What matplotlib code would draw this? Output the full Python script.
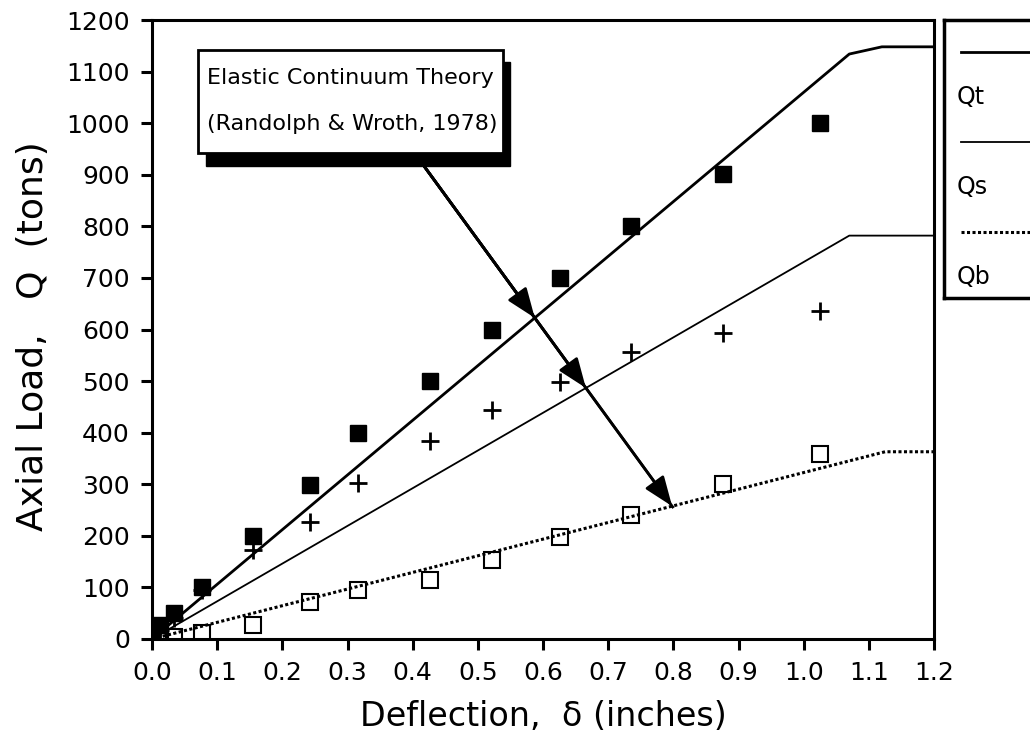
import numpy as np
import matplotlib.pyplot as plt
from matplotlib.patches import Rectangle

plt.rcParams['font.family'] = ['DejaVu Sans']

# -------------------------
# Measured loads vs. top deflection
# -------------------------
defl = [0.0, 0.012, 0.034, 0.076, 0.155, 0.242, 0.316, 0.427, 0.521, 0.626, 0.735, 0.876, 1.025]
qt_meas = [0, 27, 50, 101, 200, 298, 400, 500, 599, 700, 800, 901, 1000]
qs_meas = [0, 18, 40, 95, 172, 227, 302, 384, 444, 498, 556, 593, 636]
qb_meas = [0, 2, 4, 12, 27, 71, 95, 114, 153, 198, 240, 300, 358]

# -------------------------
# Elastic continuum theory curves
# -------------------------
qt_th_x = [0.0, 1.07, 1.12, 1.2]
qt_th_y = [0, 1134, 1148, 1148]
qs_th_x = [0.0, 1.07, 1.2]
qs_th_y = [0, 782, 782]
qb_th_x = [0.0, 1.125, 1.2]
qb_th_y = [0, 363, 363]

x_ticks = np.round(np.arange(0, 1.21, 0.1), 1)
y_ticks = np.arange(0, 1201, 100)

fig = plt.figure(figsize=(10.3, 7.36), dpi=100)
ax = fig.add_axes([152/1030, 1 - 639/736, (934 - 152)/1030, (639 - 20)/736])

ax.plot(qt_th_x, qt_th_y, color='black', lw=2.0, zorder=3)
ax.plot(qs_th_x, qs_th_y, color='black', lw=1.3, zorder=3)
ax.plot(qb_th_x, qb_th_y, color='black', lw=2.2, ls=(0, (1, 0.8)), zorder=3)

ax.plot(defl, qt_meas, ls='none', marker='s', ms=11.5, color='black', zorder=4)
ax.plot(defl, qs_meas, ls='none', marker='+', ms=13, mew=2, color='black', zorder=4)
ax.plot(defl, qb_meas, ls='none', marker='s', ms=11, mfc='none', mec='black', mew=1.5, zorder=2)

ax.set_xlim(0, 1.2)
ax.set_ylim(0, 1200)
ax.set_xticks(x_ticks)
ax.set_xticklabels([f"{v:.1f}" for v in x_ticks])
ax.set_yticks(y_ticks)
ax.tick_params(direction='out', length=8, width=2.2, labelsize=18, pad=8,
               top=False, right=False)
for s in ax.spines.values():
    s.set_linewidth(2.2)

ax.set_xlabel("Deflection,  δ (inches)", fontsize=24)
ax.set_ylabel("Axial Load,   Q  (tons)", fontsize=26)
ax.xaxis.set_label_coords(0.5, -0.098)
ax.yaxis.set_label_coords(-0.13, 0.49)

# -------------------------
# Annotation box with shadow
# -------------------------
ax.add_patch(Rectangle((0.083, 917), 0.550 - 0.083, 1118 - 917, facecolor='black',
                       edgecolor='black', zorder=5, clip_on=False))
ax.add_patch(Rectangle((0.0706, 942), 0.538 - 0.0706, 1141 - 942, facecolor='white',
                       edgecolor='black', lw=2, zorder=6, clip_on=False))
ax.text(0.084, 1087, "Elastic Continuum Theory", fontsize=16, va='center', zorder=7)
ax.text(0.084, 998, "(Randolph & Wroth, 1978)", fontsize=16, va='center', zorder=7)

# arrow from box through the three theory lines
arr_x0, arr_y0 = 0.411, 928
arr_x1, arr_y1 = 0.799, 256
xs = np.linspace(arr_x0, arr_x1, 4001)
yl = arr_y0 + (xs - arr_x0) * (arr_y1 - arr_y0) / (arr_x1 - arr_x0)
ax.plot([arr_x0, arr_x1], [arr_y0, arr_y1], color='black', lw=2, zorder=5)
for tx, ty in [(qt_th_x, qt_th_y), (qs_th_x, qs_th_y), (qb_th_x, qb_th_y)]:
    i = np.argmin(np.abs(yl - np.interp(xs, tx, ty)))
    ax.annotate('', xy=(xs[i], yl[i]), xytext=(arr_x0, arr_y0),
                arrowprops=dict(arrowstyle='-|>,head_length=1.3,head_width=0.5',
                                color='black', lw=2, mutation_scale=14,
                                shrinkA=0, shrinkB=0), zorder=5)

# -------------------------
# Legend (lines above labels, cut at right edge)
# -------------------------
lg = fig.add_axes([944/1030, 1 - 298/736, 120/1030, 278/736])
lg.set_xlim(944, 1064)
lg.set_ylim(298, 20)
lg.set_xticks([])
lg.set_yticks([])
for s in lg.spines.values():
    s.set_linewidth(2.5)
lg.plot([961, 1064], [52, 52], color='black', lw=2.0)
lg.plot([961, 1064], [142, 142], color='black', lw=1.3)
lg.plot([961, 1064], [232, 232], color='black', lw=2.2, ls=(0, (1, 0.8)))
lg.text(957, 97, "Qt", fontsize=17, va='center')
lg.text(957, 187, "Qs", fontsize=17, va='center')
lg.text(957, 277, "Qb", fontsize=17, va='center')

fig.savefig("out.png", dpi=100)
